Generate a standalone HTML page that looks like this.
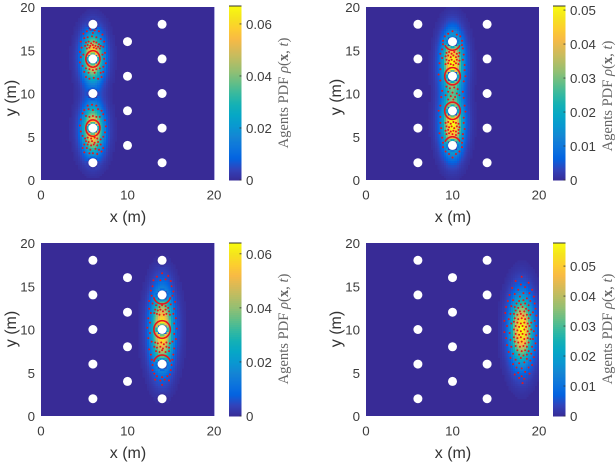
<!DOCTYPE html>
<html>
<head>
<meta charset="utf-8">
<title>Agents PDF panels</title>
<style>
html,body{margin:0;padding:0;background:#fff;}
svg{display:block;}
.tick{font-family:"Liberation Sans",sans-serif;font-size:13.3px;fill:#3c3c3c;}
.title{font-family:"Liberation Sans",sans-serif;font-size:16px;fill:#333;text-anchor:middle;}
.cbtitle{font-family:"Liberation Serif",serif;font-size:14.6px;fill:#666;text-anchor:middle;}
</style>
</head>
<body>
<svg id="chart" width="616" height="462" viewBox="0 0 616 462" xmlns="http://www.w3.org/2000/svg">
  <rect width="616" height="462" fill="#fff"/>
  <g id="marks"></g>
  <text class="title" x="128" y="222">x (m)</text>
  <text class="title" x="453" y="222">x (m)</text>
  <text class="title" x="128" y="458">x (m)</text>
  <text class="title" x="453" y="458">x (m)</text>
  <text class="title" transform="translate(16,98) rotate(-90)">y (m)</text>
  <text class="title" transform="translate(341,97) rotate(-90)">y (m)</text>
  <text class="title" transform="translate(16,329) rotate(-90)">y (m)</text>
  <text class="title" transform="translate(341,329) rotate(-90)">y (m)</text>
  <text class="cbtitle" transform="translate(288,93) rotate(-90)">Agents PDF <tspan font-style="italic">ρ</tspan>(<tspan font-weight="bold">x</tspan>, <tspan font-style="italic">t</tspan>)</text>
  <text class="cbtitle" transform="translate(612,96) rotate(-90)">Agents PDF <tspan font-style="italic">ρ</tspan>(<tspan font-weight="bold">x</tspan>, <tspan font-style="italic">t</tspan>)</text>
  <text class="cbtitle" transform="translate(288,329) rotate(-90)">Agents PDF <tspan font-style="italic">ρ</tspan>(<tspan font-weight="bold">x</tspan>, <tspan font-style="italic">t</tspan>)</text>
  <text class="cbtitle" transform="translate(612,329) rotate(-90)">Agents PDF <tspan font-style="italic">ρ</tspan>(<tspan font-weight="bold">x</tspan>, <tspan font-style="italic">t</tspan>)</text>
</svg>
<script>
// ---- shared axis data ----
var axisTicks = [0, 5, 10, 15, 20];
var xTickValues = [0, 10, 20];
var obstacleX = [6,6,6,6,6,10,10,10,10,14,14,14,14,14];
var obstacleY = [2,6,10,14,18,4,8,12,16,2,6,10,14,18];
var obstacleRadius = 0.52;

// ---- colour bar limits and ticks ----
var colorMaxes = [0.0669, 0.0512, 0.064, 0.0577];
var colorTicks1 = [0, 0.02, 0.04, 0.06];
var colorTicks2 = [0, 0.01, 0.02, 0.03, 0.04, 0.05];
var colorTicks3 = [0, 0.02, 0.04, 0.06];
var colorTicks4 = [0, 0.01, 0.02, 0.03, 0.04, 0.05];

// ---- density lobes: centre, spread, peak ----
var lobeX1 = [6, 6, 6, 6];
var lobeY1 = [14.2, 5.8, 14.2, 5.8];
var lobeSx1 = [0.72, 0.72, 1.15, 1.15];
var lobeSy1 = [1.7, 1.7, 2.3, 2.3];
var lobePeak1 = [0.056, 0.056, 0.012, 0.012];

var lobeX2 = [10, 10, 10, 10];
var lobeY2 = [13.5, 6.5, 13.5, 6.5];
var lobeSx2 = [0.73, 0.73, 1.15, 1.15];
var lobeSy2 = [2.1, 2.1, 2.6, 2.6];
var lobePeak2 = [0.043, 0.043, 0.009, 0.009];

var lobeX3 = [14, 14];
var lobeY3 = [10, 10];
var lobeSx3 = [0.74, 1.2];
var lobeSy3 = [2.7, 3.4];
var lobePeak3 = [0.053, 0.012];

var lobeX4 = [18, 18];
var lobeY4 = [10, 10];
var lobeSx4 = [0.78, 1.2];
var lobeSy4 = [2.4, 3.2];
var lobePeak4 = [0.047, 0.011];

// ---- agent rings: cx, cy, rx, ry, from deg, to deg ----
var rings1 = [[6,14,0.82,0.95,0,360],[6,6,0.82,0.95,0,360]];
var rings2 = [[10,12,0.9,1.0,0,360],[10,8,0.9,1.0,0,360],[10,16,0.95,1.0,205,335],[10,4,0.95,1.0,25,155]];
var rings3 = [[14,10,0.95,1.02,0,360],[14,14,1.0,1.05,195,345],[14,6,1.0,1.05,15,165]];
var rings4 = [];

// ---- agents (x, y in metres) ----
var agents1 = [[5.3,17.2],[5.7,17.4],[6.2,17.3],[6.7,17.2],[6,17],[4.9,16.9],[7.1,16.8],[5,16.4],[5.4,16.5],[5.9,16.6],[6.4,16.5],[6.9,16.3],[4.6,16],[7.3,16],[5.2,15.9],[5.5,16],[5.8,15.8],[6.1,16],[6.4,15.9],[6.7,15.7],[5.1,15.5],[5.4,15.6],[5.7,15.5],[6,15.6],[6.3,15.5],[6.6,15.4],[6.9,15.5],[5.3,15.2],[5.6,15.3],[6.1,15.3],[6.4,15.2],[6.8,15.2],[4.7,15.3],[7.2,15.4],[4.5,14.8],[4.6,14.2],[4.5,13.6],[4.8,13.2],[7.4,14.7],[7.3,14],[7.5,13.5],[7.2,13.1],[4.9,14.5],[7.1,14.5],[5.2,12.9],[5.6,12.8],[6,12.7],[6.4,12.8],[6.8,12.9],[5,12.5],[5.5,12.4],[6.2,12.4],[6.9,12.4],[7.2,12.5],[5.2,11.9],[5.6,11.7],[6.1,11.8],[6.6,11.7],[7,11.9],[5.4,8.6],[5.9,8.7],[6.4,8.6],[5,8.1],[5.5,8.2],[6,8.1],[6.6,8.2],[7,8],[4.8,7.7],[7.2,7.6],[5.2,7.4],[5.6,7.3],[6,7.4],[6.4,7.3],[6.8,7.3],[4.6,7],[7.4,6.9],[4.5,6.3],[7.5,6.2],[4.6,5.6],[7.4,5.5],[4.8,5.1],[7.2,5],[5.1,4.8],[5.4,4.9],[5.8,4.8],[6.2,4.9],[6.5,4.8],[6.9,4.7],[5.2,4.5],[5.5,4.4],[5.9,4.5],[6.2,4.3],[6.6,4.4],[5,4.1],[5.4,4.1],[5.8,4],[6.1,4.1],[6.5,4],[6.9,4.1],[4.8,3.7],[5.3,3.7],[5.7,3.5],[6.3,3.6],[6.7,3.5],[7.2,3.7],[5,3.2],[5.6,3.1],[6,3.1],[6.5,3],[7,3.3]];

var agents2 = [[10,17.2],[9.5,16.9],[10.5,16.8],[9.1,16.6],[10.9,16.6],[8.9,16.1],[11.1,16.1],[8.9,15.7],[11.1,15.6],[8.8,15.1],[11.2,15.2],[9.3,14.7],[9.6,14.8],[9.9,14.6],[10.2,14.8],[10.5,14.6],[10.8,14.7],[9.2,14.3],[9.5,14.4],[9.8,14.2],[10.1,14.4],[10.4,14.2],[10.7,14.3],[9.3,13.9],[9.6,13.8],[9.9,13.9],[10.2,13.7],[10.5,13.9],[10.8,13.8],[9.2,13.4],[9.5,13.5],[9.8,13.4],[10.1,13.3],[10.4,13.5],[10.7,13.4],[8.6,14.6],[8.8,14.1],[8.5,13.5],[11.3,14.5],[11.2,13.9],[11.4,13.3],[8.6,12.8],[8.4,12.2],[8.6,11.5],[11.4,12.7],[11.5,12],[11.3,11.4],[9.3,10.8],[9.7,10.6],[10.2,10.7],[10.6,10.5],[9.5,10.2],[10,10.1],[10.5,10],[9.2,9.8],[9.8,9.7],[10.3,9.6],[10.8,9.8],[9.5,9.3],[10.1,9.3],[8.8,10.3],[11.2,10.2],[8.7,9.6],[11.3,9.5],[8.6,8.6],[8.4,8],[8.6,7.3],[11.4,8.6],[11.5,7.9],[11.3,7.2],[9.2,6.6],[9.5,6.7],[9.8,6.5],[10.1,6.7],[10.4,6.6],[10.7,6.5],[9.3,6.2],[9.6,6.1],[9.9,6.2],[10.2,6],[10.5,6.2],[10.8,6.1],[9.2,5.7],[9.5,5.8],[9.8,5.6],[10.1,5.7],[10.4,5.6],[10.7,5.8],[9.3,5.3],[9.6,5.4],[10,5.3],[10.4,5.2],[10.7,5.4],[8.6,6.6],[8.7,6],[8.5,5.4],[11.3,6.6],[11.4,5.9],[11.2,5.3],[8.8,4.9],[11.2,4.8],[8.9,4.3],[11.1,4.3],[8.9,3.8],[11.1,3.8],[9.2,3.3],[10.8,3.3],[9.6,3],[10.4,3],[10,2.6]];

var agents3 = [[14,16.5],[13.4,16.1],[14.7,16.2],[13,15.7],[13.8,15.7],[14.4,15.8],[15,15.6],[12.9,15],[15.1,15],[12.7,14.5],[15.3,14.4],[12.8,13.9],[15.2,13.9],[12.5,13.3],[15.5,13.2],[12.9,13],[15,12.9],[13.3,12.8],[13.7,12.6],[14,12.8],[14.4,12.7],[14.7,12.5],[13.2,12.3],[13.5,12.2],[13.8,12.3],[14.1,12.1],[14.4,12.3],[14.8,12.1],[13.1,11.9],[13.4,11.8],[13.7,11.7],[14.2,11.7],[14.5,11.8],[14.9,11.7],[12.5,12.4],[12.7,11.9],[15.4,12.4],[15.3,11.8],[12.4,11.3],[12.6,10.8],[12.3,10.2],[12.6,9.6],[12.4,9],[15.6,11.3],[15.4,10.7],[15.7,10.1],[15.4,9.5],[15.6,8.9],[12.8,8.6],[13.2,8.5],[13.5,8.4],[13.9,8.5],[14.2,8.3],[14.5,8.5],[14.9,8.4],[15.2,8.6],[13.1,8],[13.4,7.9],[13.8,8],[14.1,7.8],[14.5,8],[14.8,7.9],[13.3,7.5],[13.7,7.4],[14,7.6],[14.4,7.4],[14.8,7.5],[12.5,7.7],[15.4,7.8],[12.7,7.1],[15.3,7.1],[12.8,6.5],[15.2,6.5],[12.9,5.9],[15.1,5.9],[12.9,5.3],[15,5.3],[13.1,4.9],[14.9,4.8],[13.4,4.6],[14,4.5],[14.6,4.6],[13.2,4.2],[13.8,4.1],[14.3,4.2],[14.8,4.1],[14,3.6]];

var agents4 = [[18,16.1],[17.3,15.6],[18.8,15.4],[17.9,15.2],[18.4,14.9],[16.9,14.8],[17.6,14.6],[19.2,14.6],[18.9,14.2],[16.6,14],[17.2,14.1],[18.2,14.2],[17.8,13.8],[19.4,13.8],[16.4,13.3],[17,13.4],[18.6,13.6],[19,13.3],[19.5,13],[16.2,12.6],[16.8,12.7],[19.6,12.4],[16.1,11.9],[16.7,11.8],[19.3,12],[19.7,11.6],[16,11],[16.5,11.2],[19.5,11],[16.3,10.4],[16.8,10.7],[19.7,10.4],[16,9.7],[16.6,9.6],[19.4,9.8],[16.2,9],[19.7,9.3],[16.7,8.8],[19.3,8.9],[16.3,8.2],[19.6,8.4],[16.8,8],[19.2,8],[16.5,7.4],[19.5,7.6],[17,7.2],[19.1,7.2],[16.7,6.7],[19.4,6.8],[17.3,6.5],[18.6,6.6],[19,6.4],[17,6],[17.7,6.1],[18.3,6.2],[19.2,5.9],[17.4,5.6],[18,5.5],[18.8,5.6],[17.6,5],[18.4,5.1],[17.2,4.8],[18.9,4.9],[18,4.6],[17.7,4.4],[18.3,4.3],[18.1,3.8],
[17.7,13.3],[18.2,13.4],[17.4,13],[17.9,12.9],[18.4,13],[18.8,12.8],[17.2,12.6],[17.6,12.5],[18.1,12.6],[18.5,12.4],[17.3,12.2],[17.8,12.1],[18.3,12.1],[18.8,12.2],[17.1,11.8],[17.5,11.7],[17.9,11.8],[18.2,11.6],[18.6,11.7],[19,11.7],[17.2,11.3],[17.6,11.2],[18,11.3],[18.4,11.2],[18.8,11.3],[17.1,10.9],[17.5,10.8],[17.9,10.7],[18.3,10.8],[18.7,10.7],[19.1,10.8],[17.3,10.4],[17.7,10.3],[18.1,10.4],[18.5,10.3],[18.9,10.4],[17.1,10],[17.5,9.9],[17.9,9.8],[18.3,10],[18.7,9.8],[19.1,10],[17.3,9.5],[17.7,9.4],[18.1,9.5],[18.5,9.4],[18.9,9.5],[17.1,9.1],[17.5,9],[17.9,9.1],[18.3,8.9],[18.7,9],[19,8.9],[17.2,8.6],[17.6,8.5],[18,8.6],[18.4,8.4],[18.8,8.5],[17.3,8.1],[17.8,8],[18.2,8.1],[18.6,8],[17.5,7.6],[18,7.5],[18.4,7.6],[18.8,7.5],[17.7,7.1],[18.2,7],[18.6,7.1],[17.9,6.7]];

// ---- colour map stops (parula) ----
var parula = [[56,43,150],[50,67,186],[3,99,225],[13,117,220],[20,133,212],[9,152,209],[6,167,198],[21,177,180],[56,185,158],[101,190,134],[146,191,115],[183,189,100],[217,186,86],[248,186,68],[252,206,46],[245,228,29],[249,251,14]];

var panels = [
  {px:41,py:7,cx:229,cy:6,cbH:174,edge:true,max:colorMaxes[0],ticks:colorTicks1,lx:lobeX1,ly:lobeY1,sx:lobeSx1,sy:lobeSy1,pk:lobePeak1,rings:rings1,agents:agents1},
  {px:366,py:7,cx:553,cy:6,cbH:174,edge:false,max:colorMaxes[1],ticks:colorTicks2,lx:lobeX2,ly:lobeY2,sx:lobeSx2,sy:lobeSy2,pk:lobePeak2,rings:rings2,agents:agents2},
  {px:41,py:243,cx:229,cy:243,cbH:173,edge:true,max:colorMaxes[2],ticks:colorTicks3,lx:lobeX3,ly:lobeY3,sx:lobeSx3,sy:lobeSy3,pk:lobePeak3,rings:rings3,agents:agents3},
  {px:366,py:243,cx:553,cy:243,cbH:173,edge:false,max:colorMaxes[3],ticks:colorTicks4,lx:lobeX4,ly:lobeY4,sx:lobeSx4,sy:lobeSy4,pk:lobePeak4,rings:rings4,agents:agents4}
];

var NS = 'http://www.w3.org/2000/svg';
var root = document.getElementById('marks');
var PLOT = 173;
var CELL = 0.25;

function colorAt(t){
  t = Math.max(0, Math.min(1, t));
  var p = t * (parula.length - 1);
  var i = Math.min(parula.length - 2, Math.floor(p));
  var f = p - i;
  var a = parula[i], b = parula[i + 1];
  return 'rgb(' + Math.round(a[0] + (b[0] - a[0]) * f) + ',' + Math.round(a[1] + (b[1] - a[1]) * f) + ',' + Math.round(a[2] + (b[2] - a[2]) * f) + ')';
}
function make(tag, attrs, parent){
  var el = document.createElementNS(NS, tag);
  for (var k in attrs) el.setAttribute(k, attrs[k]);
  parent.appendChild(el);
  return el;
}
function density(P, x, y){
  var v = 0;
  for (var i = 0; i < P.lx.length; i++){
    var dx = (x - P.lx[i]) / P.sx[i], dy = (y - P.ly[i]) / P.sy[i];
    v += P.pk[i] * Math.exp(-0.5 * (dx * dx + dy * dy));
  }
  for (var j = 0; j < obstacleX.length; j++){
    var d = Math.hypot(x - obstacleX[j], y - obstacleY[j]);
    var m = Math.max(0, Math.min(1, (d - 0.5) / 0.24));
    v *= m;
  }
  return v;
}

panels.forEach(function(P, n){
  var X = function(v){ return P.px + v / 20 * PLOT; };
  var Y = function(v){ return P.py + PLOT - v / 20 * PLOT; };
  var g = make('g', {}, root);
  
  

  var clip = make('clipPath', {id:'plot-clip-' + n}, g);
  make('rect', {x:P.px, y:P.py, width:PLOT, height:PLOT}, clip);

  var bg = make('rect', {x:P.px, y:P.py, width:PLOT, height:PLOT, fill:colorAt(0)}, g);
  
  

  if (P.edge){
    var edge = make('rect', {x:P.px + PLOT, y:P.py, width:0.9, height:PLOT, fill:'#a7a4de'}, g);
    
    
  }

  // heatmap cells
  var cells = make('g', {'clip-path':'url(#plot-clip-' + n + ')'}, g);
  
  
  for (var cx = 0; cx < 20; cx += CELL){
    for (var cy = 0; cy < 20; cy += CELL){
      var val = density(P, cx + CELL / 2, cy + CELL / 2);
      if (val < P.max * 0.012) continue;
      var cell = make('rect', {x:X(cx).toFixed(2), y:Y(cy + CELL).toFixed(2), width:(CELL / 20 * PLOT + 0.3).toFixed(2), height:(CELL / 20 * PLOT + 0.3).toFixed(2), fill:colorAt(val / P.max), 'shape-rendering':'crispEdges'}, cells);
      
      
    }
  }

  // rings of agents
  P.rings.forEach(function(r){
    var a0 = r[4] * Math.PI / 180, a1 = r[5] * Math.PI / 180, steps = 48, pts = [];
    for (var s = 0; s <= steps; s++){
      var a = a0 + (a1 - a0) * s / steps;
      pts.push(X(r[0] + r[2] * Math.cos(a)).toFixed(2) + ',' + Y(r[1] + r[3] * Math.sin(a)).toFixed(2));
    }
    var ring = make('polyline', {points:pts.join(' '), fill:'none', stroke:'#e8161c', 'stroke-width':1.6}, g);
    
    
  });

  // agents
  P.agents.forEach(function(a){
    var dot = make('circle', {cx:X(a[0]).toFixed(2), cy:Y(a[1]).toFixed(2), r:1, fill:'#e8161c'}, g);
    
    
  });

  // obstacles
  obstacleX.forEach(function(ox, i){
    var ob = make('circle', {cx:X(ox).toFixed(2), cy:Y(obstacleY[i]).toFixed(2), r:obstacleRadius / 20 * PLOT, fill:'#fff'}, g);
    
    
  });

  // axis ticks
  axisTicks.forEach(function(t){
    var ty = make('text', {'class':'tick', x:P.px - 6, y:Y(t) + 5, 'text-anchor':'end'}, g);
    ty.textContent = String(t);
    
    
  });
  xTickValues.forEach(function(t){
    var tx = make('text', {'class':'tick', x:X(t), y:P.py + PLOT + 19.5, 'text-anchor':'middle'}, g);
    tx.textContent = String(t);
    
    
  });

  // colour bar
  var CBW = 12.5, rows = 87;
  for (var k = 0; k < rows; k++){
    var cb = make('rect', {x:P.cx, y:(P.cy + P.cbH - (k + 1) * P.cbH / rows).toFixed(2), width:CBW, height:(P.cbH / rows + 0.3).toFixed(2), fill:colorAt((k + 0.5) / rows), 'shape-rendering':'crispEdges'}, g);
    
    
  }
  var top = make('rect', {x:P.cx, y:P.cy - 0.5, width:CBW, height:1, fill:'#333'}, g);
  
  
  P.ticks.forEach(function(t){
    var cy = P.cy + P.cbH - t / P.max * P.cbH;
    var mark = make('rect', {x:P.cx + CBW - 2, y:cy - 0.4, width:2, height:0.8, fill:'#333'}, g);
    
    
    var lab = make('text', {'class':'tick', x:P.cx + CBW + 4.5, y:cy + 5}, g);
    lab.textContent = String(t);
    
    
  });
});
</script>
</body>
</html>
